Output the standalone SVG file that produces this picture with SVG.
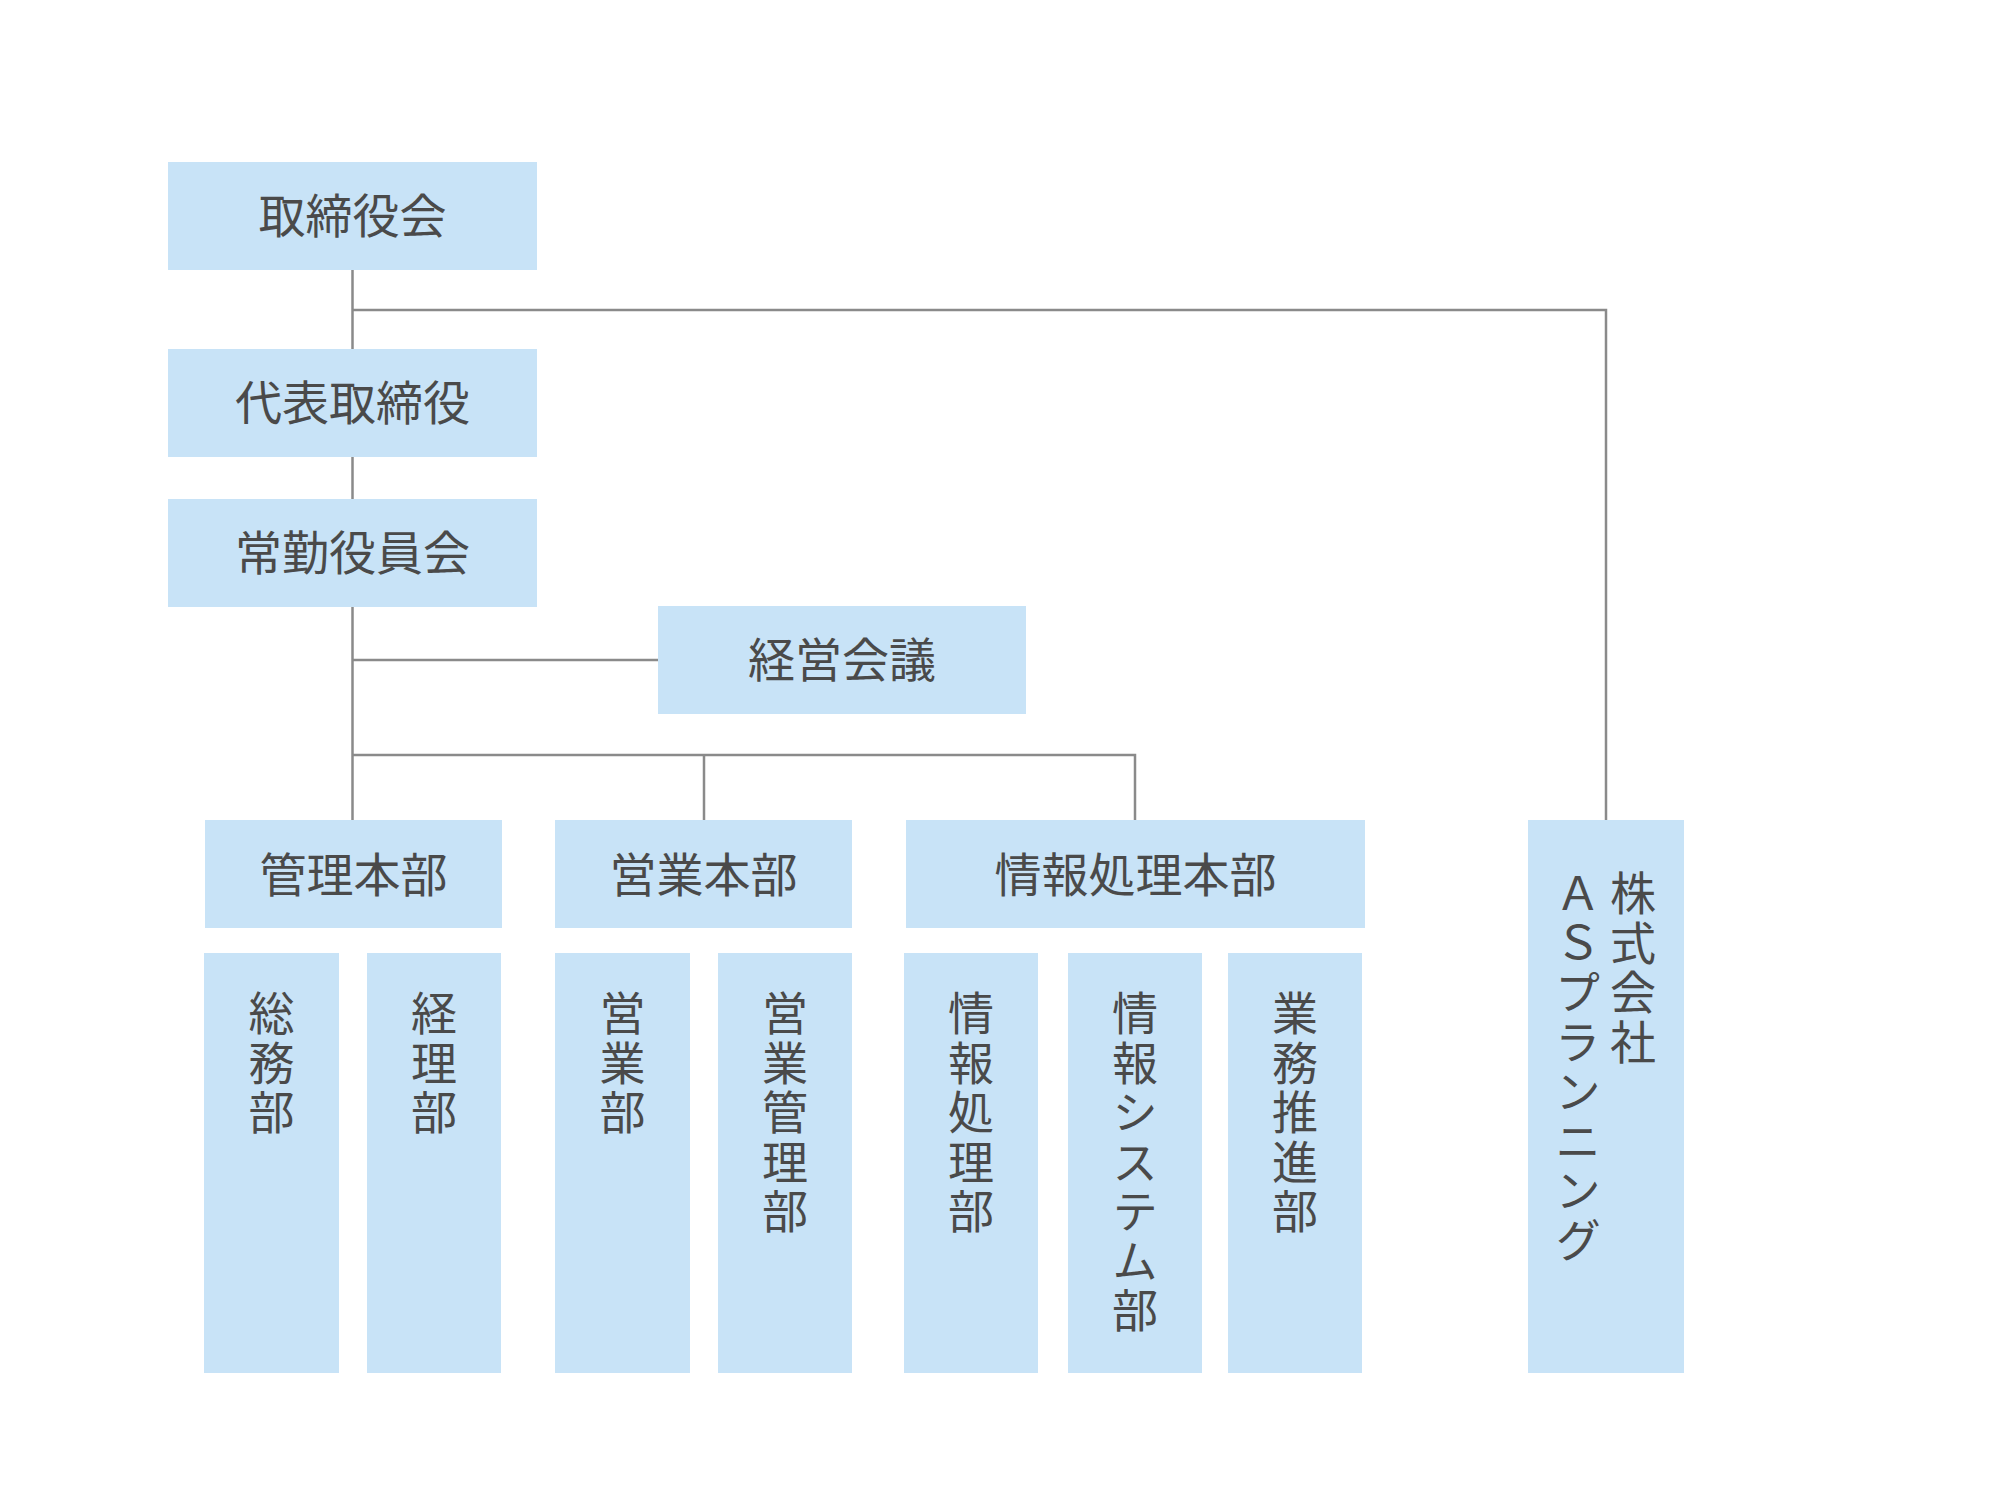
<svg xmlns="http://www.w3.org/2000/svg" width="2000" height="1500" viewBox="0 0 2000 1500">
<style>
.box{fill:#c8e3f7}
.lbl{font-family:"Noto Sans CJK JP","Noto Sans CJK SC",sans-serif;font-size:47px;fill:#4a4a4a;text-anchor:middle}
.vl{font-family:"Noto Sans CJK JP","Noto Sans CJK SC",sans-serif;font-size:46px;fill:#4a4a4a;writing-mode:vertical-rl;text-anchor:start;letter-spacing:3.5px}
.ln{stroke:#8a8a8a;stroke-width:2.5;fill:none}
</style>
<rect width="2000" height="1500" fill="#ffffff"/>
<g id="connectors">
<path class="ln" d="M352.5 270V349M352.5 457V499M352.5 607V820"/>
<path class="ln" d="M352.5 310H1606V820"/>
<path class="ln" d="M352.5 660H658"/>
<path class="ln" d="M352.5 755H1135V820M704 755V820"/>
</g>
<g id="n-torishimariyakukai"><rect class="box" x="168" y="162" width="369" height="108"/><text class="lbl" x="352.5" y="233">取締役会</text></g>
<g id="n-daihyo"><rect class="box" x="168" y="349" width="369" height="108"/><text class="lbl" x="352.5" y="420">代表取締役</text></g>
<g id="n-jokin"><rect class="box" x="168" y="499" width="369" height="108"/><text class="lbl" x="352.5" y="570">常勤役員会</text></g>
<g id="n-keiei"><rect class="box" x="658" y="606" width="368" height="108"/><text class="lbl" x="842" y="677">経営会議</text></g>
<g id="n-kanri"><rect class="box" x="205" y="820" width="297" height="108"/><text class="lbl" x="353.5" y="892">管理本部</text></g>
<g id="n-eigyo"><rect class="box" x="555" y="820" width="297" height="108"/><text class="lbl" x="703.5" y="892">営業本部</text></g>
<g id="n-joho"><rect class="box" x="906" y="820" width="459" height="108"/><text class="lbl" x="1135.5" y="892">情報処理本部</text></g>
<g id="n-somu"><rect class="box" x="204" y="953" width="135" height="420"/><text class="vl" x="271.5" y="990">総務部</text></g>
<g id="n-keiri"><rect class="box" x="367" y="953" width="134" height="420"/><text class="vl" x="434" y="990">経理部</text></g>
<g id="n-eigyobu"><rect class="box" x="555" y="953" width="135" height="420"/><text class="vl" x="622.5" y="990">営業部</text></g>
<g id="n-eigyokanri"><rect class="box" x="718" y="953" width="134" height="420"/><text class="vl" x="785" y="990">営業管理部</text></g>
<g id="n-johoshori"><rect class="box" x="904" y="953" width="134" height="420"/><text class="vl" x="971" y="990">情報処理部</text></g>
<g id="n-johosystem"><rect class="box" x="1068" y="953" width="134" height="420"/><text class="vl" x="1135" y="990">情報システム部</text></g>
<g id="n-gyomu"><rect class="box" x="1228" y="953" width="134" height="420"/><text class="vl" x="1295" y="990">業務推進部</text></g>
<g id="n-asplanning"><rect class="box" x="1528" y="820" width="156" height="553"/>
<text class="vl" x="1633" y="870">株式会社</text>
<text class="vl" x="1578" y="870">ＡＳプランニング</text>
</g>
</svg>
